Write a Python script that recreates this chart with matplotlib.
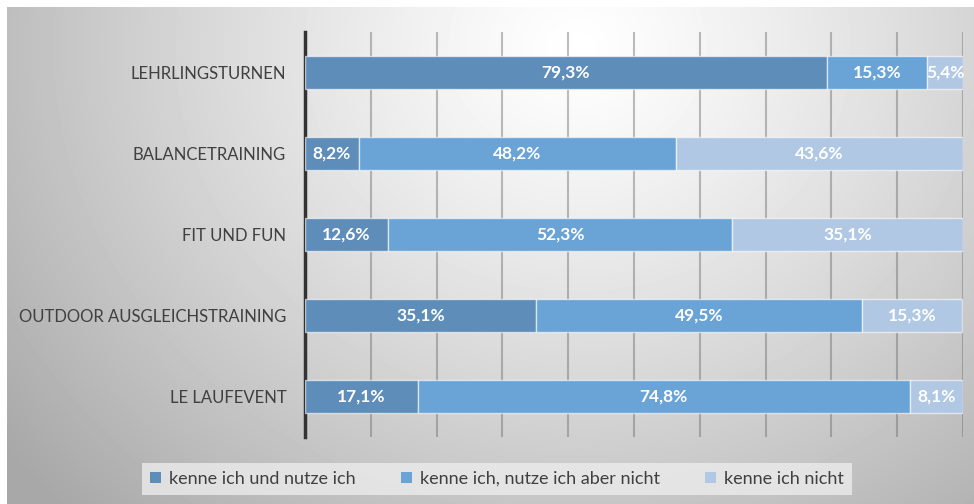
import matplotlib.pyplot as plt
import numpy as np

plt.rcParams["font.family"] = ["Lato", "DejaVu Sans"]

categories = [
    "LEHRLINGSTURNEN",
    "BALANCETRAINING",
    "FIT UND FUN",
    "OUTDOOR AUSGLEICHSTRAINING",
    "LE LAUFEVENT",
]
series_names = [
    "kenne ich und nutze ich",
    "kenne ich, nutze ich aber nicht",
    "kenne ich nicht",
]
nutze = [79.3, 8.2, 12.6, 35.1, 17.1]
nicht_genutzt = [15.3, 48.2, 52.3, 49.5, 74.8]
unbekannt = [5.4, 43.6, 35.1, 15.3, 8.1]
colors = ["#5f8db9", "#6aa4d6", "#b1c8e5"]

W, H = 974, 504
fig = plt.figure(figsize=(W / 100, H / 100), dpi=100)
fig.patch.set_facecolor("white")

# gradient panel behind the chart
bg = fig.add_axes([7 / W, 0, (W - 7) / W, (H - 7) / H], zorder=0)
yy, xx = np.mgrid[0:H - 7, 0:W - 7]
d = np.sqrt(((xx - 570) / 560.0) ** 2 + ((yy - 40) / 500.0) ** 2)
shade = np.clip(1.0 - 0.25 * np.clip(d, 0, 1.3) ** 1.2, 0, 1)
bg.imshow(shade, cmap="gray", vmin=0, vmax=1, aspect="auto", interpolation="bilinear")
bg.axis("off")

ax = fig.add_axes([305 / W, 67 / H, 658 / W, 405 / H], zorder=1)
ax.patch.set_alpha(0)

y = np.arange(len(categories))
left = np.zeros(len(categories))
for name, vals, col in zip(series_names, [nutze, nicht_genutzt, unbekannt], colors):
    bars = ax.barh(y, vals, left=left, height=0.4, color=col, label=name,
                   edgecolor=(1, 1, 1, 0.6), linewidth=1, zorder=3)
    ax.bar_label(bars, labels=[f"{v:.1f}%".replace(".", ",") for v in vals],
                 label_type="center", color="white", fontsize=12.5, fontweight="bold")
    left += np.array(vals)

ax.set_xlim(0, 100)
ax.set_ylim(len(categories) - 0.5, -0.5)
ax.set_xticks(np.arange(0, 101, 10))
ax.xaxis.grid(True, color="#6e6e6e", alpha=0.45, linewidth=1.5, zorder=0)
ax.set_axisbelow(True)
ax.tick_params(axis="x", length=0, labelbottom=False)
ax.tick_params(axis="y", length=0, pad=13.5, labelsize=12, labelcolor="#404040")
ax.set_yticks(y)
ax.set_yticklabels(categories)
for s in ["top", "right", "bottom"]:
    ax.spines[s].set_visible(False)
ax.spines["left"].set_color("#333333")
ax.spines["left"].set_linewidth(2.5)

leg = fig.legend(loc="center", bbox_to_anchor=(497 / W, 25 / H), ncol=3,
                 frameon=True, fontsize=13, handlelength=0.6, handleheight=0.6,
                 handletextpad=0.45, columnspacing=2.5, borderpad=0.45,
                 borderaxespad=0)
leg.get_frame().set_facecolor("#ececec")
leg.get_frame().set_alpha(0.8)
leg.get_frame().set_edgecolor("none")
leg.get_frame().set_boxstyle("square", pad=0)
for t in leg.get_texts():
    t.set_color("#404040")
for h in leg.legend_handles:
    h.set_edgecolor("none")

fig.savefig("out.png", dpi=100)
